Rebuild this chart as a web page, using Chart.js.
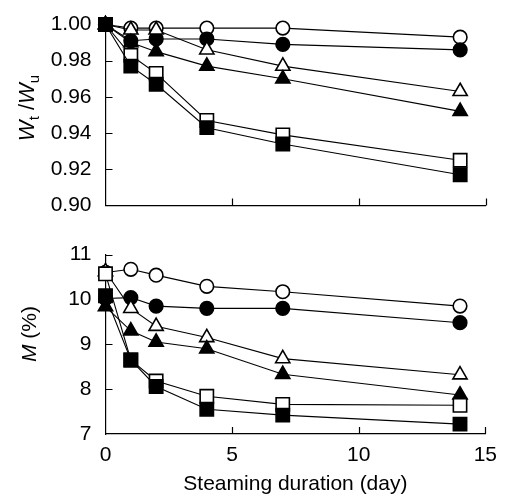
<!DOCTYPE html>
<html>
<head>
<meta charset="utf-8">
<script src="https://cdn.jsdelivr.net/npm/chart.js@4.4.0/dist/chart.umd.min.js"></script>
<style>
  body { margin: 0; background: #fff; }
  #wrap { position: relative; width: 508px; height: 499px; }
  #topBox { position: absolute; left: 0; top: 0; width: 508px; height: 230px; }
  #botBox { position: absolute; left: 0; top: 230px; width: 508px; height: 269px; }
</style>
</head>
<body>
<div id="wrap">
  <div id="topBox"><canvas id="topChart"></canvas></div>
  <div id="botBox"><canvas id="botChart"></canvas></div>
</div>
<script>
// steaming days
const days = [0, 1, 2, 4, 7, 14];

// Wt/Wu (top panel)
const ratioOpenCircle   = [1.000, 0.998, 0.998, 0.998, 0.998, 0.993];
const ratioFilledCircle = [1.000, 0.991, 0.992, 0.992, 0.989, 0.986];
const ratioOpenTri      = [1.000, 0.997, 0.997, 0.986, 0.977, 0.963];
const ratioFilledTri    = [1.000, 0.990, 0.985, 0.977, 0.970, 0.952];
const ratioOpenSq       = [1.000, 0.983, 0.973, 0.947, 0.939, 0.925];
const ratioFilledSq     = [1.000, 0.977, 0.967, 0.943, 0.934, 0.917];

// M % (bottom panel)
const moistOpenCircle   = [10.60, 10.67, 10.54, 10.29, 10.17, 9.85];
const moistFilledCircle = [10.02, 10.04, 9.85, 9.80, 9.80, 9.48];
const moistOpenTri      = [10.62, 9.80, 9.40, 9.15, 8.68, 8.32];
const moistFilledTri    = [9.84, 9.30, 9.05, 8.90, 8.33, 7.87];
const moistOpenSq       = [10.57, 8.65, 8.18, 7.84, 7.66, 7.64];
const moistFilledSq     = [10.08, 8.65, 8.06, 7.55, 7.42, 7.22];

// tick labels
const ratioTicks = [0.90, 0.92, 0.94, 0.96, 0.98, 1.00];
const moistTicks = [7, 8, 9, 10, 11];
const dayTicks = [0, 5, 10, 15];

const FONT = '"Liberation Sans", Arial, Helvetica, sans-serif';

function pts(vals) {
  return days.map((d, i) => ({ x: d, y: vals[i] }));
}

function series(vals, style, filled) {
  let r = 6.8;
  if (style == 'rect') r = 9.4;
  if (style == 'triangle') r = 8.2;
  return {
    data: pts(vals),
    borderColor: '#000',
    borderWidth: 1.1,
    pointStyle: style,
    pointRadius: r,
    pointHoverRadius: r,
    pointBackgroundColor: filled ? '#000' : '#fff',
    pointBorderColor: '#000',
    pointBorderWidth: 1.6,
    tension: 0,
    clip: false
  };
}

// ticks pointing into the plot + rotated y title with subscripts
const panelDecor = {
  id: 'panelDecor',
  beforeDatasetsDraw(chart, args, opts) {
    const ctx = chart.ctx, a = chart.chartArea;
    const xs = chart.scales.x, ys = chart.scales.y;
    ctx.save();
    ctx.strokeStyle = '#000';
    ctx.lineWidth = 1.2;
    ctx.beginPath();
    opts.yTicks.forEach((v) => {
      const p = Math.round(ys.getPixelForValue(v)) + 0.5;
      ctx.moveTo(a.left, p);
      ctx.lineTo(a.left + 7, p);
    });
    opts.xTicks.forEach((v) => {
      const p = Math.round(xs.getPixelForValue(v)) + 0.5;
      ctx.moveTo(p, a.bottom);
      ctx.lineTo(p, a.bottom - 7);
    });
    ctx.stroke();
    ctx.restore();
  },
  afterDraw(chart, args, opts) {
    const ctx = chart.ctx;
    const parts = opts.title;
    ctx.save();
    ctx.fillStyle = '#000';
    ctx.textBaseline = 'alphabetic';
    let total = 0;
    parts.forEach((p) => {
      ctx.font = (p.italic ? 'italic ' : '') + p.size + 'px ' + FONT;
      p.w = ctx.measureText(p.t).width;
      total += p.w;
    });
    ctx.translate(opts.titleX, opts.titleY);
    ctx.rotate(-Math.PI / 2);
    let x = -total / 2;
    parts.forEach((p) => {
      ctx.font = (p.italic ? 'italic ' : '') + p.size + 'px ' + FONT;
      ctx.fillText(p.t, x, p.dy || 0);
      x += p.w;
    });
    ctx.restore();
  }
};

function makeChart(id, sets, yMin, yMax, yTickList, showX, pad, decor) {
  return new Chart(document.getElementById(id), {
    type: 'line',
    data: { datasets: sets },
    options: {
      responsive: true,
      maintainAspectRatio: false,
      animation: false,
      events: [],
      layout: { padding: pad },
      plugins: {
        legend: { display: false },
        tooltip: { enabled: false },
        panelDecor: decor
      },
      scales: {
        x: {
          type: 'linear',
          min: 0,
          max: 15,
          afterBuildTicks: (s) => { s.ticks = dayTicks.map((v) => ({ value: v })); },
          afterFit: (s) => { s.height = showX ? 65 : 0; },
          grid: { display: false, drawTicks: false },
          border: { display: true, color: '#000', width: 1.2 },
          ticks: {
            display: showX,
            padding: 11,
            color: '#000',
            maxRotation: 0,
            font: { family: FONT, size: 21, lineHeight: 1 }
          },
          title: {
            display: showX,
            text: 'Steaming duration (day)',
            color: '#000',
            padding: { top: 0, bottom: 2 },
            font: { family: FONT, size: 21 }
          }
        },
        y: {
          type: 'linear',
          min: yMin,
          max: yMax,
          afterBuildTicks: (s) => { s.ticks = yTickList.map((v) => ({ value: v })); },
          afterFit: (s) => { s.width = 105.5; },
          grid: { display: false, drawTicks: false },
          border: { display: true, color: '#000', width: 1.2 },
          ticks: {
            padding: 14,
            color: '#000',
            font: { family: FONT, size: 21, lineHeight: 1 },
            callback: (v) => (yMax < 2 ? v.toFixed(2) : String(v))
          }
        }
      }
    },
    plugins: [panelDecor]
  });
}

const topSets = [
  series(ratioFilledSq, 'rect', true),
  series(ratioOpenSq, 'rect', false),
  series(ratioFilledTri, 'triangle', true),
  series(ratioOpenTri, 'triangle', false),
  series(ratioFilledCircle, 'circle', true),
  series(ratioOpenCircle, 'circle', false)
];

const botSets = [
  series(moistFilledSq, 'rect', true),
  series(moistOpenSq, 'rect', false),
  series(moistFilledTri, 'triangle', true),
  series(moistOpenTri, 'triangle', false),
  series(moistFilledCircle, 'circle', true),
  series(moistOpenCircle, 'circle', false)
];

makeChart('topChart', topSets, 0.90, 1.00, ratioTicks, false,
  { left: 0, right: 22.5, top: 19.5, bottom: 23.5 },
  {
    yTicks: ratioTicks.slice(1), xTicks: dayTicks.slice(1),
    titleX: 34, titleY: 108,
    title: [
      { t: 'W', italic: true, size: 22 },
      { t: 't', size: 15, dy: 5 },
      { t: ' /', size: 22 },
      { t: 'W', italic: true, size: 22 },
      { t: 'u', size: 15, dy: 5 }
    ]
  });

makeChart('botChart', botSets, 7, 11, moistTicks, true,
  { left: 0, right: 22.5, top: 12, bottom: 0 },
  {
    yTicks: moistTicks.slice(1), xTicks: dayTicks.slice(1),
    titleX: 36, titleY: 104,
    title: [
      { t: 'M', italic: true, size: 21 },
      { t: ' (%)', size: 21 }
    ]
  });
</script>
</body>
</html>
